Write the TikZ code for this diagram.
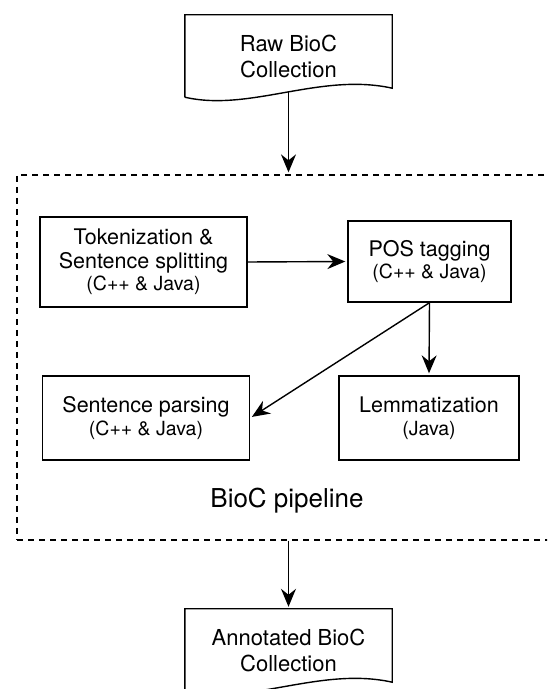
\documentclass[tikz,border=0pt]{standalone}
\usepackage{fontspec}
\setmainfont{TeX Gyre Heros}
\usetikzlibrary{arrows.meta}
\newcommand{\langnote}[1]{{\fontsize{19.5}{22}\selectfont #1}}

\begin{document}
\begin{tikzpicture}[x=1pt,y=1pt,
        procbox/.style={draw, line width=1.4pt, align=center, inner sep=0pt,
                font=\fontsize{21.5}{24}\selectfont},
        docbox/.style={align=center, inner sep=0pt, minimum width=207pt,
                minimum height=82pt, font=\fontsize{22}{26}\selectfont},
        flow/.style={line width=1.4pt, shorten >=2pt,
                -{Stealth[length=18pt,width=15pt,inset=6pt]}}]
    \useasboundingbox (0,0) rectangle (547,689);
    \clip (0,0) rectangle (547,689);
    % input and output collections
    \node[docbox] (raw) at (288.5,633) {Raw BioC\\Collection};
    \node[docbox] (annot) at (288.5,39) {Annotated BioC\\Collection};
    \foreach \d in {raw,annot} {
            \draw[line width=1.4pt] (\d.south west) -- (\d.north west) -- (\d.north east)
                -- ([yshift=9pt]\d.south east)
                .. controls +(-72pt,16pt) and +(65pt,-15pt) .. (\d.south west);
        }
    % pipeline frame
    \node[draw, line width=1.3pt, dash pattern=on 6pt off 5pt,
        minimum width=543pt, minimum height=365pt] (pipe) at (288.5,331.5) {};
    \node[font=\fontsize{26}{30}\selectfont] (pipelabel) at (287,188.5) {BioC pipeline};
    % processing steps
    \node[procbox, minimum width=207pt, minimum height=90pt] (token) at (143.5,427)
        {Tokenization \&\\Sentence splitting\\[-2pt]\langnote{(C++ \& Java)}};
    \node[procbox, minimum width=163pt, minimum height=81pt] (pos) at (429.5,427.5)
        {POS tagging\\[-2pt]\langnote{(C++ \& Java)}};
    \node[procbox, minimum width=207pt, minimum height=84pt] (parse) at (146,271)
        {Sentence parsing\\[-1pt]\langnote{(C++ \& Java)}};
    \node[procbox, minimum width=180pt, minimum height=84pt] (lemma) at (429,271)
        {Lemmatization\\[-1pt]\langnote{(Java)}};
    % connectors
    \draw[flow] ([yshift=5pt]raw.south) -- (pipe.north);
    \draw[flow] (token.east) -- (pos.west);
    \draw[flow] (pos.south) -- (lemma.north);
    \draw[flow] (pos.south) -- (parse.east);
    \draw[flow] (pipe.south) -- (annot.north);
\end{tikzpicture}
\end{document}
